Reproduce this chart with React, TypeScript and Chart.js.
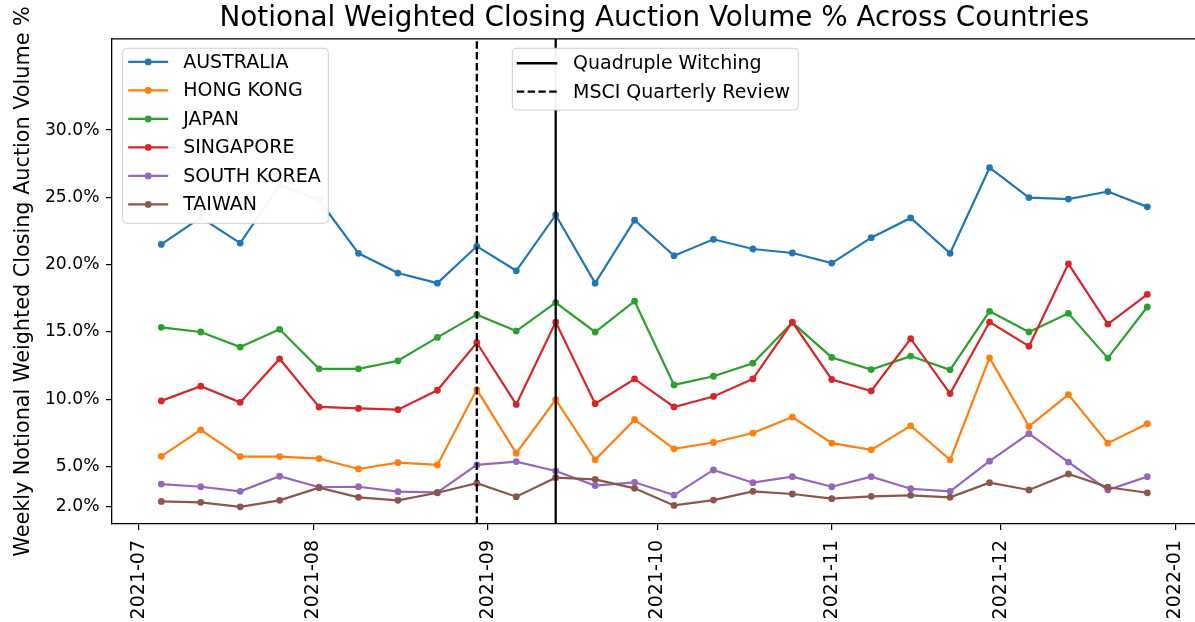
import React, { useEffect, useRef } from 'react';
import { Chart, registerables } from 'chart.js';

Chart.register(...registerables);

// ---------------- data ----------------
const weekDates = [
  '2021-07-05', '2021-07-12', '2021-07-19', '2021-07-26', '2021-08-02', '2021-08-09',
  '2021-08-16', '2021-08-23', '2021-08-30', '2021-09-06', '2021-09-13', '2021-09-20',
  '2021-09-27', '2021-10-04', '2021-10-11', '2021-10-18', '2021-10-25', '2021-11-01',
  '2021-11-08', '2021-11-15', '2021-11-22', '2021-11-29', '2021-12-06', '2021-12-13',
  '2021-12-20', '2021-12-27',
];
const monthTicks = ['2021-07', '2021-08', '2021-09', '2021-10', '2021-11', '2021-12', '2022-01'];
const yTicks = [2, 5, 10, 15, 20, 25, 30];

const countries = ['AUSTRALIA', 'HONG KONG', 'JAPAN', 'SINGAPORE', 'SOUTH KOREA', 'TAIWAN'];

const australia = [21.5, 23.5, 21.6, 25.9, 24.8, 20.84, 19.37, 18.62, 21.36, 19.54, 23.69, 18.62, 23.3,
  20.66, 21.88, 21.16, 20.86, 20.11, 22.0, 23.47, 20.84, 27.2, 24.98, 24.87, 25.43, 24.29];
const hongKong = [5.75, 7.72, 5.73, 5.73, 5.58, 4.81, 5.28, 5.11, 10.71, 5.98, 9.96, 5.49, 8.47,
  6.31, 6.78, 7.48, 8.67, 6.73, 6.23, 8.02, 5.49, 13.07, 7.97, 10.34, 6.73, 8.17];
const japan = [15.34, 14.99, 13.87, 15.19, 12.25, 12.25, 12.85, 14.59, 16.28, 15.06, 17.18, 14.99, 17.28,
  11.06, 11.7, 12.67, 15.69, 13.1, 12.2, 13.2, 12.18, 16.53, 14.99, 16.38, 13.05, 16.85];
const singapore = [9.87, 10.96, 9.76, 13.0, 9.42, 9.31, 9.22, 10.66, 14.19, 9.61, 15.73, 9.66, 11.5,
  9.42, 10.2, 11.5, 15.73, 11.46, 10.61, 14.49, 10.41, 15.73, 13.94, 20.06, 15.58, 17.78];
const southKorea = [3.69, 3.49, 3.15, 4.27, 3.45, 3.49, 3.12, 3.07, 5.11, 5.36, 4.66, 3.58, 3.82,
  2.87, 4.74, 3.79, 4.24, 3.49, 4.24, 3.34, 3.15, 5.39, 7.43, 5.32, 3.25, 4.24];
const taiwan = [2.4, 2.33, 2.0, 2.48, 3.42, 2.7, 2.48, 3.04, 3.75, 2.75, 4.16, 4.04, 3.37,
  2.1, 2.5, 3.15, 2.95, 2.6, 2.78, 2.85, 2.7, 3.79, 3.25, 4.44, 3.45, 3.04];

const quadWitchingDate = '2021-09-13';
const msciReviewDate = '2021-08-30';
const eventLabels = ['Quadruple Witching', 'MSCI Quarterly Review'];

const chartTitle = 'Notional Weighted Closing Auction Volume % Across Countries';
const yAxisLabel = 'Weekly Notional Weighted Closing Auction Volume %';

// ---------------- styles ----------------
const series = [australia, hongKong, japan, singapore, southKorea, taiwan];
const colors = ['#1f77b4', '#ff7f0e', '#2ca02c', '#d62728', '#9467bd', '#8c564b'];
const FONT = "'DejaVu Sans', sans-serif";
const LINE_W = 2.2;
const DOT_R = 3.4;

const ORIGIN = Date.UTC(2021, 6, 1);
const toDay = (s: string) => {
  const p = s.split('-').map(Number);
  return (Date.UTC(p[0], p[1] - 1, p[2] || 1) - ORIGIN) / 864e5;
};

const firstDay = toDay(weekDates[0]);
const lastDay = toDay(weekDates[weekDates.length - 1]);
const X_MIN = firstDay - 0.05 * (lastDay - firstDay);
const X_MAX = lastDay + 0.05 * (lastDay - firstDay);
const Y_MIN = 0.72;
const Y_MAX = 36.77;

function roundRect(ctx: CanvasRenderingContext2D, x: number, y: number, w: number, h: number, r: number) {
  ctx.beginPath();
  ctx.moveTo(x + r, y);
  ctx.lineTo(x + w - r, y);
  ctx.arcTo(x + w, y, x + w, y + r, r);
  ctx.lineTo(x + w, y + h - r);
  ctx.arcTo(x + w, y + h, x + w - r, y + h, r);
  ctx.lineTo(x + r, y + h);
  ctx.arcTo(x, y + h, x, y + h - r, r);
  ctx.lineTo(x, y + r);
  ctx.arcTo(x, y, x + r, y, r);
  ctx.closePath();
}

const framePlugin = {
  id: 'mplFrame',
  afterDraw(chart: any) {
    const { ctx, chartArea: ca } = chart;
    ctx.save();
    ctx.strokeStyle = '#000';
    ctx.lineWidth = 1.3;
    ctx.beginPath();
    ctx.moveTo(ca.left, ca.top);
    ctx.lineTo(ca.right, ca.top);
    ctx.lineTo(ca.right, ca.bottom);
    ctx.stroke();

    const legendFont = `19px ${FONT}`;
    // legend 1: countries
    const l1x = ca.left + 10.7;
    const l1y = ca.top + 9.3;
    ctx.fillStyle = 'rgba(255,255,255,0.95)';
    roundRect(ctx, l1x, l1y, 205.6, 175, 4);
    ctx.fill();
    ctx.strokeStyle = '#d0d0d0';
    ctx.lineWidth = 1;
    ctx.stroke();
    ctx.font = legendFont;
    ctx.textBaseline = 'middle';
    ctx.textAlign = 'left';
    countries.forEach((name, i) => {
      const cy = l1y + 13.7 + i * 28.5;
      ctx.strokeStyle = colors[i];
      ctx.lineWidth = LINE_W;
      ctx.setLineDash([]);
      ctx.beginPath();
      ctx.moveTo(l1x + 5.5, cy);
      ctx.lineTo(l1x + 45.5, cy);
      ctx.stroke();
      ctx.fillStyle = colors[i];
      ctx.beginPath();
      ctx.arc(l1x + 25.5, cy, DOT_R, 0, Math.PI * 2);
      ctx.fill();
      ctx.fillStyle = '#000';
      ctx.fillText(name, l1x + 60.5, cy + 1);
    });

    // legend 2: events
    const l2x = 512.3;
    const l2y = ca.top + 9.3;
    ctx.fillStyle = 'rgba(255,255,255,0.95)';
    roundRect(ctx, l2x, l2y, 286, 61.7, 4);
    ctx.fill();
    ctx.strokeStyle = '#d0d0d0';
    ctx.lineWidth = 1;
    ctx.stroke();
    eventLabels.forEach((name, i) => {
      const cy = l2y + 15 + i * 28.4;
      ctx.strokeStyle = '#000';
      ctx.lineWidth = 2.3;
      ctx.setLineDash(i === 1 ? [7.5, 3.3] : []);
      ctx.beginPath();
      ctx.moveTo(l2x + 4.5, cy);
      ctx.lineTo(l2x + 45, cy);
      ctx.stroke();
      ctx.setLineDash([]);
      ctx.fillStyle = '#000';
      ctx.fillText(name, l2x + 60.7, cy + 1);
    });
    ctx.restore();
  },
};

export default function App() {
  const ref = useRef<HTMLCanvasElement | null>(null);

  useEffect(() => {
    if (!ref.current) return;
    const datasets: any[] = countries.map((name, i) => ({
      label: name,
      data: weekDates.map((d, j) => ({ x: toDay(d), y: series[i][j] })),
      borderColor: colors[i],
      backgroundColor: colors[i],
      borderWidth: LINE_W,
      pointRadius: DOT_R,
      pointBorderWidth: 0,
      pointHoverRadius: DOT_R,
      tension: 0,
      order: 10 - i,
    }));
    datasets.push({
      label: eventLabels[0],
      data: [{ x: toDay(quadWitchingDate), y: Y_MIN }, { x: toDay(quadWitchingDate), y: Y_MAX }],
      borderColor: '#000',
      borderWidth: 2.3,
      pointRadius: 0,
      order: 1,
    });
    datasets.push({
      label: eventLabels[1],
      data: [{ x: toDay(msciReviewDate), y: Y_MIN }, { x: toDay(msciReviewDate), y: Y_MAX }],
      borderColor: '#000',
      borderWidth: 2.3,
      borderDash: [7.5, 3.3],
      pointRadius: 0,
      order: 0,
    });

    const chart = new Chart(ref.current, {
      type: 'line',
      data: { datasets },
      plugins: [framePlugin],
      options: {
        animation: false,
        responsive: false,
        devicePixelRatio: 1,
        layout: { padding: { left: 0, right: 2, top: 0, bottom: 0 } },
        plugins: {
          legend: { display: false },
          tooltip: { enabled: false },
          title: {
            display: true,
            text: chartTitle,
            fullSize: false,
            color: '#000',
            font: { family: FONT, size: 27.8, weight: 'normal', lineHeight: 1.2 },
            padding: { top: 2, bottom: 3.6 },
          },
        },
        scales: {
          x: {
            type: 'linear',
            min: X_MIN,
            max: X_MAX,
            afterBuildTicks: (s: any) => {
              s.ticks = monthTicks.map((m) => ({ value: toDay(m) }));
            },
            afterFit: (s: any) => {
              s.height = 98;
              s.paddingLeft = 0;
              s.paddingRight = 0;
            },
            ticks: {
              autoSkip: false,
              maxRotation: 90,
              minRotation: 90,
              padding: 10,
              color: '#000',
              font: { family: FONT, size: 19 },
              callback: (_v: any, i: number) => monthTicks[i],
            },
            grid: { drawOnChartArea: false, drawTicks: true, tickLength: 6, color: '#000', lineWidth: 1.2 },
            border: { display: true, color: '#000', width: 1.3 },
          },
          y: {
            type: 'linear',
            min: Y_MIN,
            max: Y_MAX,
            afterBuildTicks: (s: any) => {
              s.ticks = yTicks.map((v) => ({ value: v }));
            },
            afterFit: (s: any) => {
              s.width = 112;
              s.paddingTop = 0;
              s.paddingBottom = 0;
            },
            ticks: {
              padding: 6.5,
              color: '#000',
              font: { family: FONT, size: 17.2 },
              callback: (v: any) => Number(v).toFixed(1) + '%',
            },
            grid: { drawOnChartArea: false, drawTicks: true, tickLength: 6, color: '#000', lineWidth: 1.2 },
            border: { display: true, color: '#000', width: 1.3 },
            title: {
              display: true,
              text: yAxisLabel,
              color: '#000',
              font: { family: FONT, size: 20.75 },
              padding: { top: 11.5, bottom: 0 },
            },
          },
        },
      } as any,
    });
    return () => chart.destroy();
  }, []);

  return (
    <div style={{ position: 'absolute', left: 0, top: 0, width: 1195, height: 622, overflow: 'hidden', background: '#fff' }}>
      <canvas ref={ref} width={1200} height={622} style={{ width: 1200, height: 622, display: 'block' }} />
    </div>
  );
}
